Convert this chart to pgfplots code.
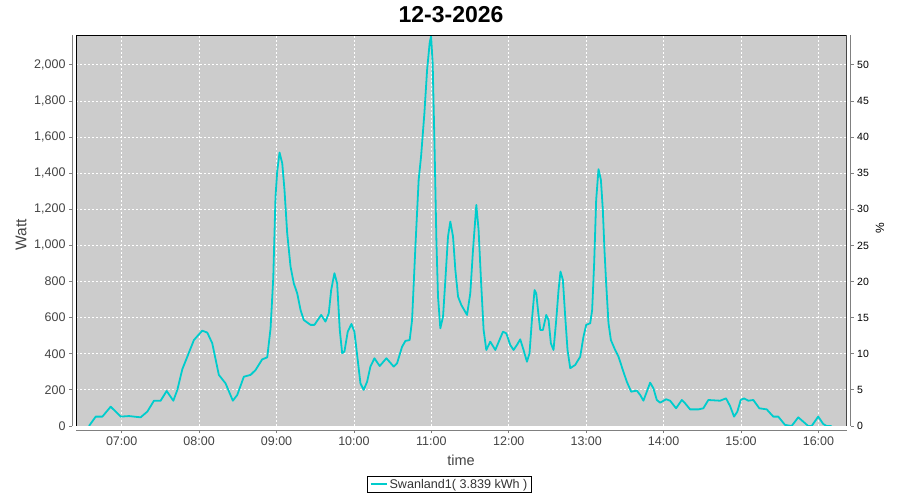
\documentclass[border=0pt]{standalone}
\usepackage{fontspec}
\setmainfont{Liberation Sans}
\usepackage{pgfplots}
\pgfplotsset{compat=1.18}
\definecolor{plotbg}{RGB}{204,204,204}
\definecolor{lineC}{RGB}{0,204,204}
\definecolor{axgrey}{RGB}{128,128,128}
\definecolor{lbl}{RGB}{68,68,68}
\begin{document}
\begin{tikzpicture}
\useasboundingbox (0,0) rectangle (900bp,500bp);
\begin{axis}[
  at={(76bp,74bp)}, anchor=south west,
  scale only axis, width=770.7bp, height=391bp,
  xmin=6.41, xmax=16.365, ymin=0, ymax=2165,
  axis x line*=bottom, axis y line*=left,
  axis line shift=4bp,
  axis line style={axgrey, line width=0.8bp, -},
  tick align=outside, major tick length=3bp,
  tick style={axgrey, line width=0.8bp},
  xtick={7,...,16},
  xticklabels={07:00,08:00,09:00,10:00,11:00,12:00,13:00,14:00,15:00,16:00},
  ytick={0,200,...,2000},
  /pgf/number format/.cd, 1000 sep={,}, assume math mode=true,
  /pgfplots/.cd,
  ticklabel style={font=\fontsize{12.5bp}{15bp}\selectfont, text=lbl},
  grid=major,
  grid style={white, line width=0.8bp, dash pattern=on 2bp off 2bp},
  axis background/.style={fill=plotbg},
  legend style={at={(axis description cs:0.4846,-0.1271)}, anchor=north,
    draw=black, line width=0.8bp, inner xsep=2bp, inner ysep=1bp,
    font=\fontsize{12.6bp}{14bp}\selectfont, text=black!80},
  legend image code/.code={\draw[#1, line width=2bp] (0bp,0bp) -- (16bp,0bp);},
  clip=true,
]
\addplot[lineC, line width=1.8bp, line join=round] coordinates {
(6.578,0) (6.665,52) (6.751,52) (6.858,107) (6.987,52) (7.094,55) (7.245,48)
(7.332,80) (7.417,140) (7.503,140) (7.581,194) (7.667,140) (7.719,200)
(7.783,314) (7.848,384) (7.933,476) (8.041,528) (8.106,517) (8.170,458)
(8.255,283) (8.342,236) (8.436,140) (8.493,172) (8.578,273) (8.665,283)
(8.729,310) (8.815,369) (8.880,380) (8.923,540) (8.958,820) (8.987,1270)
(9.009,1409) (9.039,1514) (9.074,1455) (9.103,1307) (9.138,1067) (9.181,883)
(9.223,790) (9.267,735) (9.310,643) (9.352,587) (9.439,560) (9.490,560)
(9.577,615) (9.632,578) (9.675,624) (9.706,753) (9.748,846) (9.783,790)
(9.817,532) (9.848,403) (9.877,412) (9.920,522) (9.968,565) (10.006,522)
(10.049,366) (10.084,236) (10.126,200) (10.170,245) (10.213,329) (10.265,375)
(10.333,332) (10.419,375) (10.514,329) (10.557,347) (10.622,439) (10.665,471)
(10.720,476) (10.751,587) (10.794,993) (10.836,1363) (10.867,1492) (10.910,1731)
(10.945,1972) (10.978,2120) (10.996,2160) (11.017,2009) (11.043,1511)
(11.065,1030) (11.086,716) (11.116,541) (11.151,606) (11.181,809) (11.215,1049)
(11.245,1132) (11.280,1049) (11.310,864) (11.345,716) (11.387,670) (11.461,615)
(11.503,735) (11.538,975) (11.581,1224) (11.610,1086) (11.641,809) (11.675,532)
(11.710,421) (11.761,467) (11.826,421) (11.925,522) (11.968,513) (12.019,449)
(12.062,421) (12.106,449) (12.148,480) (12.191,421) (12.235,356) (12.268,403)
(12.299,587) (12.333,753) (12.355,735) (12.377,643) (12.406,532) (12.441,532)
(12.484,615) (12.514,587) (12.544,458) (12.578,421) (12.613,587) (12.643,753)
(12.668,855) (12.699,809) (12.729,606) (12.759,421) (12.794,320) (12.858,338)
(12.923,384) (12.965,495) (13.000,560) (13.052,569) (13.077,643) (13.103,901)
(13.129,1252) (13.159,1422) (13.190,1363) (13.215,1197) (13.236,975)
(13.258,790) (13.288,569) (13.319,476) (13.374,421) (13.417,384) (13.439,356)
(13.473,310) (13.525,245) (13.581,190) (13.654,196) (13.697,172) (13.739,140)
(13.783,190) (13.826,240) (13.868,209) (13.912,144) (13.955,129) (14.032,148)
(14.084,140) (14.161,98) (14.235,144) (14.277,126) (14.342,92) (14.449,92)
(14.513,98) (14.578,144) (14.729,140) (14.806,153) (14.858,111) (14.910,52)
(14.952,79) (14.996,144) (15.039,153) (15.094,140) (15.159,144) (15.236,98)
(15.332,92) (15.417,52) (15.481,52) (15.568,6) (15.654,0) (15.739,48)
(15.804,24) (15.868,0) (15.912,0) (15.997,52) (16.062,11) (16.106,0) (16.170,0)
};
\addlegendentry{Swanland1( 3.839 kWh )}
\draw[black, line width=0.9bp] (rel axis cs:0,0) rectangle (rel axis cs:1,1);
\end{axis}
\begin{axis}[
  at={(76bp,74bp)}, anchor=south west,
  scale only axis, width=770.7bp, height=391bp,
  xmin=6.41, xmax=16.365, ymin=0, ymax=54.125,
  axis x line=none, axis y line*=right,
  axis line shift=4bp,
  axis line style={axgrey, line width=0.8bp, -},
  tick align=outside, major tick length=3bp,
  tick style={axgrey, line width=0.8bp},
  ytick={0,5,...,50},
  /pgf/number format/assume math mode=true,
  yticklabel style={font=\fontsize{10.5bp}{12bp}\selectfont, text=black},
]
\end{axis}
\node[font=\bfseries\fontsize{23bp}{26bp}\selectfont] at (451bp,485bp) {12-3-2026};
\node[font=\fontsize{15.5bp}{18bp}\selectfont, text=lbl, rotate=90] at (21bp,265bp) {Watt};
\node[font=\fontsize{12bp}{14bp}\selectfont, text=black, rotate=90] at (880bp,272bp) {\%};
\node[font=\fontsize{14.5bp}{16bp}\selectfont, text=lbl] at (461bp,40bp) {time};
\end{tikzpicture}
\end{document}
